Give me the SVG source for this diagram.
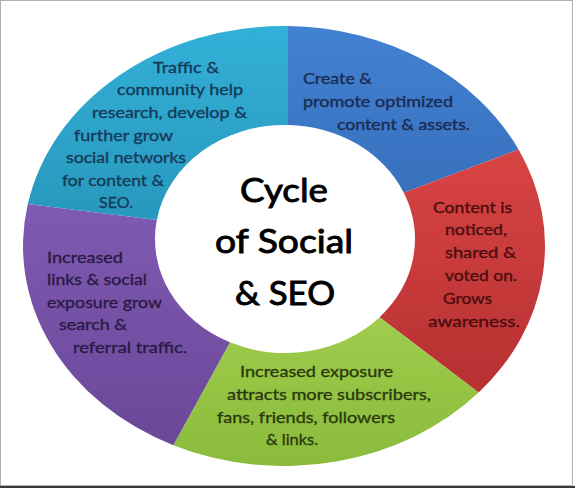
<svg xmlns="http://www.w3.org/2000/svg" width="575" height="488" viewBox="0 0 575 488">
<style>
.seg{stroke:none}
.t{font-family:Lato,"Liberation Sans",sans-serif;font-size:16px;stroke-width:0.35px}
.c{font-family:Lato,"Liberation Sans",sans-serif;font-size:33px;fill:#000;stroke:#000;stroke-width:0.9px}
.tc{fill:#163a58;stroke:#163a58}.tb{fill:#1a2b52;stroke:#1a2b52}.tr{fill:#4a0e0e;stroke:#4a0e0e}.tg{fill:#2a3a0e;stroke:#2a3a0e}.tp{fill:#2a1a44;stroke:#2a1a44}
</style>
<defs>
<linearGradient id="gCyan" x1="0" y1="0" x2="0" y2="1"><stop offset="0" stop-color="#33b0d8"/><stop offset="1" stop-color="#2898bd"/></linearGradient>
<linearGradient id="gBlue" x1="0" y1="0" x2="0" y2="1"><stop offset="0" stop-color="#4282d2"/><stop offset="1" stop-color="#3870bd"/></linearGradient>
<linearGradient id="gRed" x1="0" y1="0" x2="0" y2="1"><stop offset="0" stop-color="#d84444"/><stop offset="1" stop-color="#b73032"/></linearGradient>
<linearGradient id="gGreen" x1="0" y1="0" x2="0" y2="1"><stop offset="0" stop-color="#9fcc4c"/><stop offset="1" stop-color="#8abb3a"/></linearGradient>
<linearGradient id="gPurple" x1="0" y1="0" x2="0" y2="1"><stop offset="0" stop-color="#7f5ab2"/><stop offset="1" stop-color="#6a4898"/></linearGradient>
</defs>
<rect x="0.5" y="0.5" width="572" height="485" fill="#ffffff" stroke="#b0b0b0" stroke-width="1"/>
<rect x="0" y="486" width="575" height="2" fill="#3a3a3a"/>
<g id="connectors"></g>
<g id="node-create">
<path class="seg" fill="url(#gBlue)" d="M288 26 A261 220 0 0 1 518.6 149.6 L403.8 192.7 A130 114 0 0 0 288 125 Z"/>
<text class="t tb" x="303" y="84" textLength="69" lengthAdjust="spacingAndGlyphs">Create &amp;</text>
<text class="t tb" x="303" y="107" textLength="150" lengthAdjust="spacingAndGlyphs">promote optimized</text>
<text class="t tb" x="337" y="130" textLength="133" lengthAdjust="spacingAndGlyphs">content &amp; assets.</text>
</g>
<g id="node-noticed">
<path class="seg" fill="url(#gRed)" d="M518.6 149.6 A261 220 0 0 1 478.6 392.6 L379.6 317.2 A130 114 0 0 0 403.8 192.7 Z"/>
<text class="t tr" x="433" y="213" textLength="79" lengthAdjust="spacingAndGlyphs">Content is</text>
<text class="t tr" x="445" y="235" textLength="62" lengthAdjust="spacingAndGlyphs">noticed,</text>
<text class="t tr" x="445" y="258" textLength="71" lengthAdjust="spacingAndGlyphs">shared &amp;</text>
<text class="t tr" x="445" y="281" textLength="72" lengthAdjust="spacingAndGlyphs">voted on.</text>
<text class="t tr" x="443" y="304" textLength="49" lengthAdjust="spacingAndGlyphs">Grows</text>
<text class="t tr" x="428" y="327" textLength="92" lengthAdjust="spacingAndGlyphs">awareness.</text>
</g>
<g id="node-exposure">
<path class="seg" fill="url(#gGreen)" d="M478.6 392.6 A261 220 0 0 1 173.3 445.2 L230 342.3 A130 114 0 0 0 379.6 317.2 Z"/>
<text class="t tg" x="240" y="377" textLength="153" lengthAdjust="spacingAndGlyphs">Increased exposure</text>
<text class="t tg" x="227" y="400" textLength="204" lengthAdjust="spacingAndGlyphs">attracts more subscribers,</text>
<text class="t tg" x="217" y="423" textLength="178" lengthAdjust="spacingAndGlyphs">fans, friends, followers</text>
<text class="t tg" x="266" y="445" textLength="52" lengthAdjust="spacingAndGlyphs">&amp; links.</text>
</g>
<g id="node-links">
<path class="seg" fill="url(#gPurple)" d="M173.3 445.2 A261 220 0 0 1 27.8 204 L156.8 220 A130 114 0 0 0 230 342.3 Z"/>
<text class="t tp" x="47" y="263" textLength="76" lengthAdjust="spacingAndGlyphs">Increased</text>
<text class="t tp" x="47" y="285" textLength="100" lengthAdjust="spacingAndGlyphs">links &amp; social</text>
<text class="t tp" x="47" y="308" textLength="115" lengthAdjust="spacingAndGlyphs">exposure grow</text>
<text class="t tp" x="59" y="330" textLength="68" lengthAdjust="spacingAndGlyphs">search &amp;</text>
<text class="t tp" x="73" y="353" textLength="114" lengthAdjust="spacingAndGlyphs">referral traffic.</text>
</g>
<g id="node-traffic">
<path class="seg" fill="url(#gCyan)" d="M27.8 204 A261 220 0 0 1 288 26 L288 125 A130 114 0 0 0 156.8 220 Z"/>
<text class="t tc" x="153" y="73" textLength="66" lengthAdjust="spacingAndGlyphs">Traffic &amp;</text>
<text class="t tc" x="117" y="95" textLength="126" lengthAdjust="spacingAndGlyphs">community help</text>
<text class="t tc" x="92" y="118" textLength="155" lengthAdjust="spacingAndGlyphs">research, develop &amp;</text>
<text class="t tc" x="74" y="141" textLength="99" lengthAdjust="spacingAndGlyphs">further grow</text>
<text class="t tc" x="66" y="163" textLength="120" lengthAdjust="spacingAndGlyphs">social networks</text>
<text class="t tc" x="62" y="186" textLength="102" lengthAdjust="spacingAndGlyphs">for content &amp;</text>
<text class="t tc" x="99" y="208" textLength="34" lengthAdjust="spacingAndGlyphs">SEO.</text>
</g>
<g id="node-center">
<text class="c" x="240" y="202" textLength="88" lengthAdjust="spacingAndGlyphs">Cycle</text>
<text class="c" x="215" y="253" textLength="138" lengthAdjust="spacingAndGlyphs">of Social</text>
<text class="c" x="235" y="305" textLength="100" lengthAdjust="spacingAndGlyphs">&amp; SEO</text>
</g>
</svg>
